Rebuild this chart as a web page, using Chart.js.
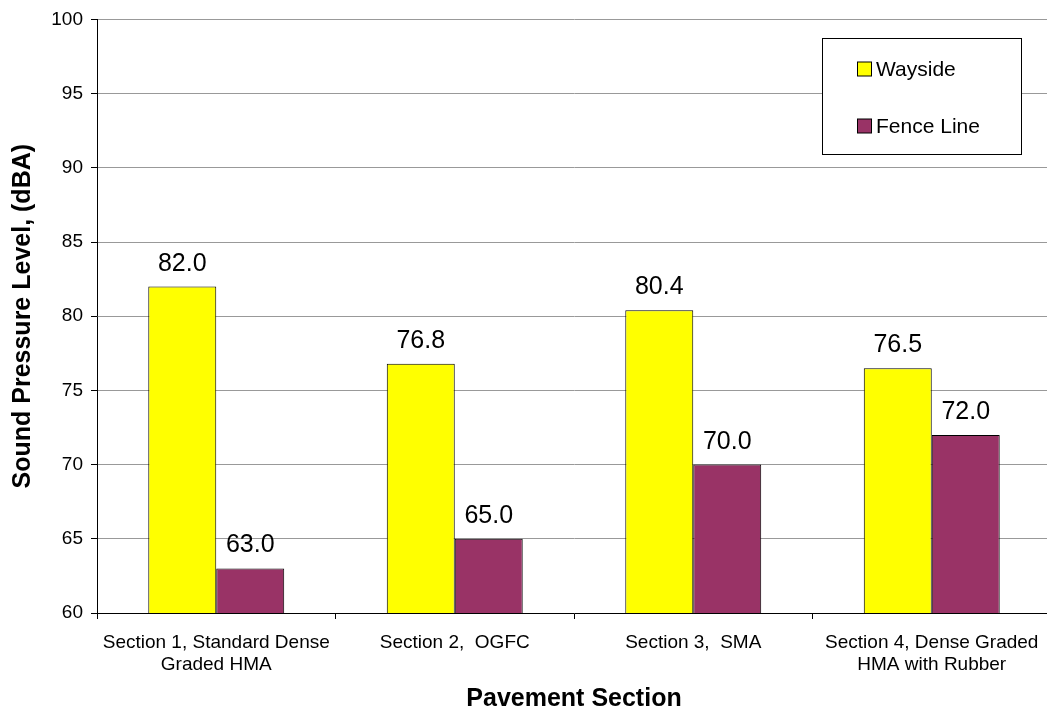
<!DOCTYPE html>
<html>
<head>
<meta charset="utf-8">
<title>Sound Pressure Level by Pavement Section</title>
<script src="https://cdn.jsdelivr.net/npm/chart.js@4"></script>
<style>
    html, body { margin: 0; padding: 0; background: #fff; overflow: hidden; }
    #wrap { position: relative; width: 1066px; height: 714px; }
</style>
</head>
<body>
<div id="wrap"><canvas id="noiseChart" width="1066" height="714"></canvas></div>
<script>
const sections = [
    ['Section 1, Standard Dense', 'Graded HMA'],
    'Section 2,  OGFC',
    'Section 3,  SMA',
    ['Section 4, Dense Graded', 'HMA with Rubber']
];
const wayside = [82.0, 76.8, 80.4, 76.5];
const fenceLine = [63.0, 65.0, 70.0, 72.0];
const yTicks = [60, 65, 70, 75, 80, 85, 90, 95, 100];

const FONT = 'Arial, "Liberation Sans", sans-serif';

// value printed above each bar
const barValues = {
    id: 'barValues',
    afterDatasetsDraw(chart) {
        const ctx = chart.ctx;
        ctx.save();
        ctx.font = '25px ' + FONT;
        ctx.fillStyle = '#000';
        ctx.textAlign = 'center';
        ctx.textBaseline = 'alphabetic';
        chart.data.datasets.forEach((ds, i) => {
            chart.getDatasetMeta(i).data.forEach((bar, j) => {
                ctx.fillText(ds.data[j].toFixed(1), bar.x, bar.y - 16);
            });
        });
        ctx.restore();
    }
};

// boxed legend in the upper right of the plot
const boxLegend = {
    id: 'boxLegend',
    afterDraw(chart) {
        const ctx = chart.ctx;
        const box = { x: 822.5, y: 38.5, w: 199, h: 116 };
        ctx.save();
        ctx.fillStyle = '#fff';
        ctx.strokeStyle = '#000';
        ctx.lineWidth = 1;
        ctx.fillRect(box.x, box.y, box.w, box.h);
        ctx.strokeRect(box.x, box.y, box.w, box.h);
        ctx.font = '21px ' + FONT;
        ctx.textBaseline = 'middle';
        ctx.textAlign = 'left';
        chart.data.datasets.forEach((ds, i) => {
            const cy = 69 + i * 57;
            ctx.fillStyle = ds.backgroundColor;
            ctx.fillRect(857.5, cy - 7, 14, 14);
            ctx.strokeRect(857.5, cy - 7, 14, 14);
            ctx.fillStyle = '#000';
            ctx.fillText(ds.label, 876, cy + 1);
        });
        ctx.restore();
    }
};

new Chart(document.getElementById('noiseChart'), {
    type: 'bar',
    data: {
        labels: sections,
        datasets: [
            {
                label: 'Wayside',
                data: wayside,
                backgroundColor: '#ffff00',
                borderColor: '#000',
                borderWidth: 1
            },
            {
                label: 'Fence Line',
                data: fenceLine,
                backgroundColor: '#993366',
                borderColor: '#000',
                borderWidth: 1
            }
        ]
    },
    options: {
        responsive: false,
        animation: false,
        devicePixelRatio: 1,
        layout: { padding: { top: 17, right: 15, left: 0, bottom: 0 } },
        datasets: {
            bar: { categoryPercentage: 0.57, barPercentage: 1.0 }
        },
        plugins: {
            legend: { display: false },
            tooltip: { enabled: false }
        },
        scales: {
            x: {
                grid: {
                    drawOnChartArea: false,
                    tickColor: '#000',
                    tickLength: 6,
                    offset: true
                },
                border: { color: '#000', width: 1 },
                ticks: {
                    color: '#000',
                    font: { family: FONT, size: 19, lineHeight: 1.2 },
                    padding: 12,
                    maxRotation: 0,
                    autoSkip: false
                },
                title: {
                    display: true,
                    text: 'Pavement Section',
                    color: '#000',
                    font: { family: FONT, size: 25, weight: 'bold', lineHeight: 1.2 },
                    padding: { top: 0, bottom: 0 }
                },
                afterFit(scale) { scale.height = 101; }
            },
            y: {
                min: 60,
                max: 100,
                afterBuildTicks(scale) {
                    scale.ticks = yTicks.map(v => ({ value: v }));
                },
                grid: {
                    color: '#999',
                    tickColor: '#000',
                    tickLength: 6
                },
                border: { color: '#000', width: 1 },
                ticks: {
                    color: '#000',
                    font: { family: FONT, size: 19 },
                    padding: 8
                },
                title: {
                    display: true,
                    text: 'Sound Pressure Level, (dBA)',
                    color: '#000',
                    font: { family: FONT, size: 25, weight: 'bold', lineHeight: 1.2 },
                    padding: { top: 8, bottom: 0 }
                },
                afterFit(scale) { scale.width = 97; }
            }
        }
    },
    plugins: [barValues, boxLegend]
});
</script>
</body>
</html>
